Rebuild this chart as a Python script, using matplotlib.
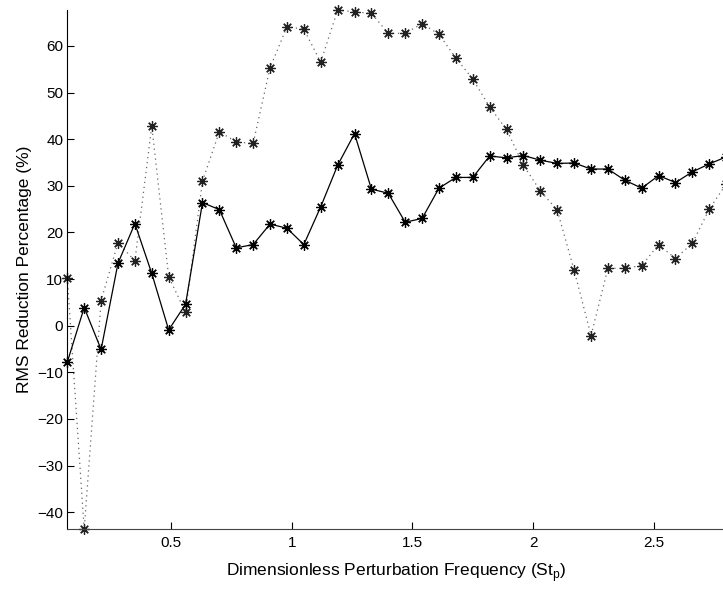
import numpy as np
import matplotlib.pyplot as plt
from matplotlib.ticker import FixedLocator

plt.rcParams['font.family'] = ['Liberation Sans', 'DejaVu Sans']

# Strouhal numbers of the perturbation (0.07 steps)
st_p = [0.07, 0.14, 0.21, 0.28, 0.35, 0.42, 0.49, 0.56, 0.63, 0.70,
        0.77, 0.84, 0.91, 0.98, 1.05, 1.12, 1.19, 1.26, 1.33, 1.40,
        1.47, 1.54, 1.61, 1.68, 1.75, 1.82, 1.89, 1.96, 2.03, 2.10,
        2.17, 2.24, 2.31, 2.38, 2.45, 2.52, 2.59, 2.66, 2.73, 2.80]

# solid line series
rms_solid = [-7.8, 3.9, -5.1, 13.4, 21.9, 11.2, -0.9, 4.6, 26.4, 24.9,
             16.7, 17.4, 21.8, 20.9, 17.4, 25.5, 34.4, 41.2, 29.3, 28.4,
             22.2, 23.0, 29.5, 31.8, 31.8, 36.4, 36.0, 36.5, 35.5, 34.8,
             34.9, 33.6, 33.6, 31.2, 29.5, 32.2, 30.7, 33.0, 34.7, 36.2]

# dotted line series
rms_dotted = [10.2, -43.7, 5.4, 17.8, 13.9, 42.8, 10.5, 2.9, 31.0, 41.6,
              39.4, 39.1, 55.3, 64.1, 63.6, 56.5, 67.7, 67.3, 67.0, 62.7,
              62.7, 64.8, 62.5, 57.4, 52.9, 46.9, 42.1, 34.4, 28.9, 24.8,
              11.9, -2.1, 12.3, 12.3, 12.9, 17.4, 14.4, 17.7, 25.0, 30.4]

x_ticks = [0.5, 1, 1.5, 2, 2.5]
x_ticklabels = ['0.5', '1', '1.5', '2', '2.5']
y_ticks = [-40, -30, -20, -10, 0, 10, 20, 30, 40, 50, 60]

fig = plt.figure(figsize=(7.23, 5.93), dpi=100)
ax = fig.add_axes([0.0931, 0.1071, 0.9113, 0.876])

# asterisk marker like MATLAB's '*'
star = (8, 2, 0)

ax.plot(st_p, rms_dotted, color='#666666', linestyle=(0, (1, 3)), linewidth=0.9,
        marker=star, markersize=7.5, markeredgewidth=0.9,
        markeredgecolor='#222222', clip_on=False)
ax.plot(st_p, rms_solid, color='black', linestyle='-', linewidth=0.9,
        marker=star, markersize=7.5, markeredgewidth=0.9,
        markeredgecolor='black', clip_on=False)

ax.set_xlim(min(st_p), max(st_p))
ax.set_ylim(min(rms_dotted), max(rms_dotted))

ax.xaxis.set_major_locator(FixedLocator(x_ticks))
ax.set_xticklabels(x_ticklabels)
ax.yaxis.set_major_locator(FixedLocator(y_ticks))
ax.set_yticklabels([str(v).replace('-', '\u2212') for v in y_ticks])

ax.spines['top'].set_visible(False)
ax.spines['right'].set_visible(False)
ax.spines['left'].set_linewidth(0.8)
ax.spines['bottom'].set_linewidth(0.8)
ax.spines['bottom'].set_color('#444444')

ax.tick_params(direction='in', length=5, width=0.8, labelsize=11,
               top=False, right=False)
ax.tick_params(axis='x', pad=5)
ax.tick_params(axis='y', pad=3)

ax.set_xlabel('Dimensionless Perturbation Frequency (St$_\\mathregular{p}$)',
              fontsize=12.5, labelpad=8)
ax.set_ylabel('RMS Reduction Percentage (%)', fontsize=12.5, labelpad=4)

fig.savefig('out.png', dpi=100)
